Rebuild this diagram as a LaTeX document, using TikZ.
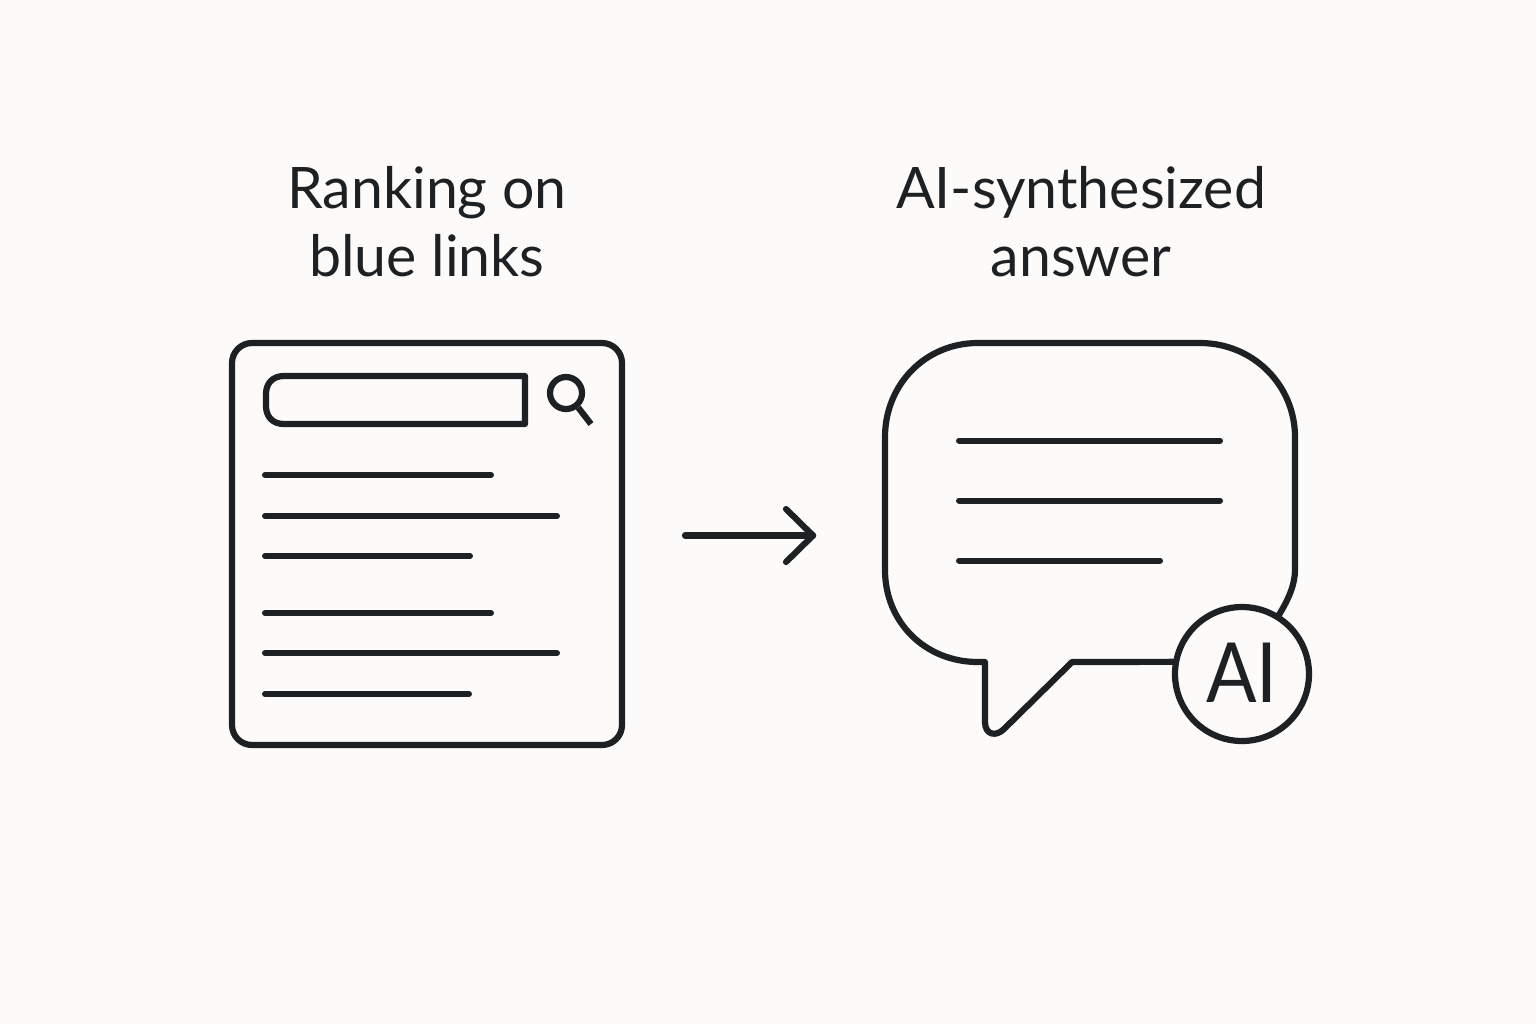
\documentclass[tikz,border=0pt]{standalone}
\usepackage{fontspec}
\setmainfont{Lato}
\usetikzlibrary{arrows.meta}
\definecolor{ink}{HTML}{1E2124}
\definecolor{paper}{HTML}{FCFBF9}
\tikzset{
  x=0.5pt,y=-0.5pt,
  ink line/.style={draw=ink,line width=3.1pt,line cap=round,line join=round},
  text rule/.style={draw=ink,line width=3pt,line cap=round},
  title/.style={text=ink,font=\fontsize{28.6}{34}\selectfont,align=center,inner sep=0pt},
}
\begin{document}
\begin{tikzpicture}
\useasboundingbox[fill=paper] (0,0) rectangle (1536,1024);
\node[title] (left title) at (427,222) {Ranking on\\blue links};
\node[title] (right title) at (1081,222) {AI-synthesized\\answer};
% document
\node[ink line,rounded corners=10pt,minimum width=195pt,minimum height=201pt,inner sep=0pt] (doc) at (427,544) {};
\draw[ink line] (525,376) -- (525,424) -- (284,424)
  .. controls (272,424) and (266,416) .. (266,406) -- (266,394)
  .. controls (266,384) and (272,376) .. (284,376) -- cycle;
\node[ink line,circle,minimum size=16pt,inner sep=0pt] (lens) at (566,393) {};
\coordinate (handle end) at (591,424);
\draw[ink line,line cap=butt] (lens.-50) -- (handle end);
\draw[text rule] (265,475) -- (491,475);
\draw[text rule] (265,516) -- (557,516);
\draw[text rule] (265,556) -- (470,556);
\draw[text rule] (265,613) -- (491,613);
\draw[text rule] (265,653) -- (557,653);
\draw[text rule] (265,694) -- (469,694);
% arrow
\coordinate (arrow start) at (685,535.5);
\coordinate (arrow end) at (813,535.5);
\coordinate (barb top) at (786,509);
\coordinate (barb bottom) at (786,562);
\draw[ink line] (arrow start) -- (arrow end);
\draw[ink line] (barb top) -- (arrow end) -- (barb bottom);
% bubble
\node[ink line,circle,minimum size=67pt,inner sep=0pt,text=ink,text depth=1.5pt,font=\fontsize{41.5}{41.5}\selectfont\addfontfeature{FakeStretch=0.9}] (badge) at (1242,674) {AI};
\draw[ink line] (badge.170) -- (1072,662) -- (1004,729)
  .. controls (996,737) and (985,735) .. (985,722) -- (985,662) -- (978,662)
  .. controls (925,662) and (885,622) .. (885,570) -- (885,437)
  .. controls (885,385) and (925,343) .. (978,343) -- (1200,343)
  .. controls (1253,343) and (1295,385) .. (1295,437) -- (1295,570)
  .. controls (1295,585) and (1288,600) .. (badge.58);
\draw[text rule] (959,440.5) -- (1220,440.5);
\draw[text rule] (959,500.5) -- (1220,500.5);
\draw[text rule] (959,560.5) -- (1160,560.5);
\end{tikzpicture}
\end{document}
